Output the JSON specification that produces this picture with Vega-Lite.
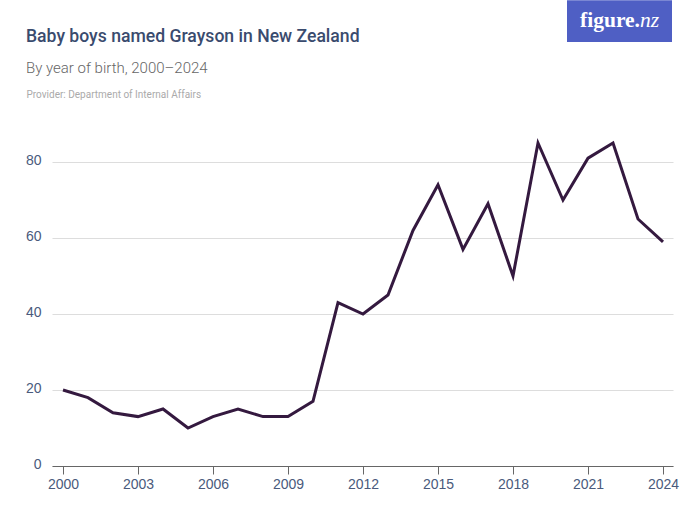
{
  "$schema": "https://vega.github.io/schema/vega-lite/v6.json",
  "description": "Baby boys named Grayson in New Zealand",
  "width": 621,
  "height": 360,
  "autosize": "none",
  "padding": {"left": 52, "top": 106, "right": 27, "bottom": 59},
  "background": "white",
  "view": {"stroke": null},
  "title": {
    "text": "Baby boys named Grayson in New Zealand",
    "subtitle": "By year of birth, 2000–2024",
    "anchor": "start",
    "frame": "group",
    "dx": -26,
    "dy": 86,
    "offset": 10,
    "font": "Roboto",
    "fontSize": 17.6,
    "fontWeight": 500,
    "color": "#3a4b6e",
    "subtitleFont": "Roboto",
    "subtitleFontSize": 15,
    "subtitleFontWeight": 300,
    "subtitleColor": "#666666",
    "subtitlePadding": 16
  },
  "data": {
    "values": [
      {"year": 2000, "count": 20},
      {"year": 2001, "count": 18},
      {"year": 2002, "count": 14},
      {"year": 2003, "count": 13},
      {"year": 2004, "count": 15},
      {"year": 2005, "count": 10},
      {"year": 2006, "count": 13},
      {"year": 2007, "count": 15},
      {"year": 2008, "count": 13},
      {"year": 2009, "count": 13},
      {"year": 2010, "count": 17},
      {"year": 2011, "count": 43},
      {"year": 2012, "count": 40},
      {"year": 2013, "count": 45},
      {"year": 2014, "count": 62},
      {"year": 2015, "count": 74},
      {"year": 2016, "count": 57},
      {"year": 2017, "count": 69},
      {"year": 2018, "count": 50},
      {"year": 2019, "count": 85},
      {"year": 2020, "count": 70},
      {"year": 2021, "count": 81},
      {"year": 2022, "count": 85},
      {"year": 2023, "count": 65},
      {"year": 2024, "count": 59}
    ]
  },
  "layer": [
    {
      "mark": {"type": "line", "color": "#34193f", "strokeWidth": 3, "strokeJoin": "miter", "clip": false},
      "encoding": {
        "x": {
          "field": "year",
          "type": "quantitative",
          "scale": {"domain": [1999.56, 2024.4], "nice": false, "zero": false},
          "axis": {
            "title": null,
            "values": [2000, 2003, 2006, 2009, 2012, 2015, 2018, 2021, 2024],
            "format": "d",
            "grid": false,
            "domainColor": "#666666",
            "domainWidth": 1,
            "tickColor": "#666666",
            "tickSize": 8,
            "labelFont": "Liberation Sans",
            "labelFontSize": 14,
            "labelColor": "#4a5a7c",
            "labelPadding": 3
          }
        },
        "y": {
          "field": "count",
          "type": "quantitative",
          "scale": {"domain": [0, 94.74], "nice": false},
          "axis": {
            "title": "Provider: Department of Internal Affairs",
            "titleFont": "Roboto",
            "titleFontSize": 10,
            "titleFontWeight": 400,
            "titleColor": "#aaaaaa",
            "titleAngle": 0,
            "titleAlign": "left",
            "titleBaseline": "alphabetic",
            "titleX": -26,
            "titleY": -9,
            "values": [0, 20, 40, 60, 80],
            "domain": false,
            "ticks": false,
            "gridColor": "#dddddd",
            "gridWidth": 1,
            "labelFont": "Liberation Sans",
            "labelFontSize": 14,
            "labelColor": "#4a5a7c",
            "labelPadding": 11,
            "labelOffset": -1.5
          }
        }
      }
    },
    {
      "data": {"values": [{"logo": "figure.nz"}]},
      "mark": {"type": "rect", "color": "#4f5fc4", "clip": false},
      "encoding": {
        "x": {"datum": 2020.16},
        "x2": {"datum": 2024.36},
        "y": {"datum": 122.6},
        "y2": {"datum": 111.6}
      }
    },
    {
      "data": {"values": [{"logo": "figure."}]},
      "mark": {"type": "text", "color": "white", "font": "Liberation Serif", "fontSize": 21.5, "fontWeight": 700, "align": "right", "baseline": "alphabetic", "clip": false},
      "encoding": {
        "text": {"field": "logo"},
        "x": {"datum": 2023.08},
        "y": {"datum": 115.5}
      }
    },
    {
      "data": {"values": [{"logo": "nz"}]},
      "mark": {"type": "text", "color": "white", "font": "Liberation Serif", "fontSize": 21.5, "fontStyle": "italic", "fontWeight": 400, "align": "left", "baseline": "alphabetic", "clip": false},
      "encoding": {
        "text": {"field": "logo"},
        "x": {"datum": 2023.08},
        "y": {"datum": 115.5}
      }
    }
  ]
}
